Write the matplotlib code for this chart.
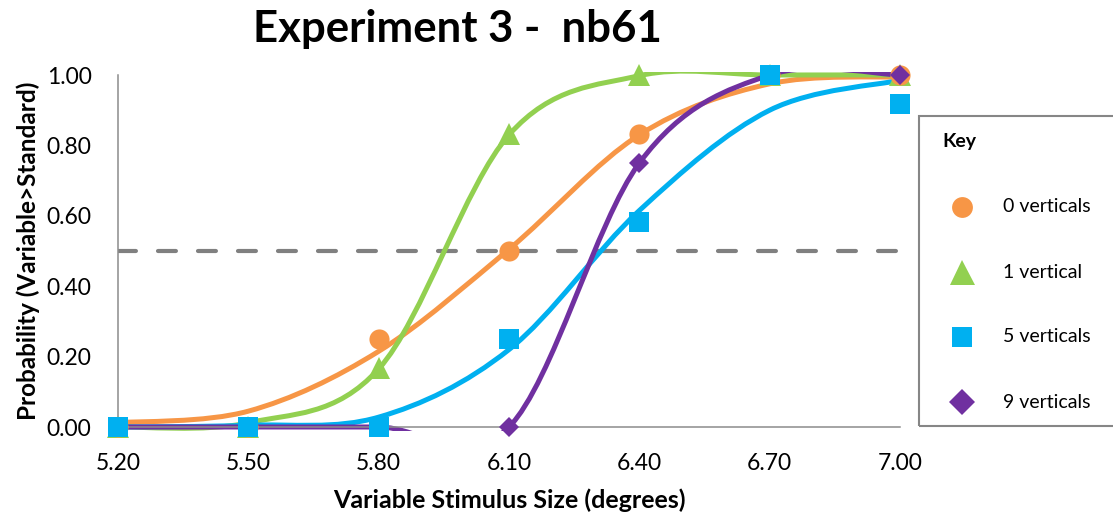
import numpy as np
import matplotlib
matplotlib.use("Agg")
import matplotlib.pyplot as plt
from matplotlib.path import Path
from matplotlib.patches import PathPatch, Rectangle
from matplotlib.lines import Line2D

plt.rcParams['font.family'] = ['Lato', 'DejaVu Sans']

# stimulus sizes (x) and axis labels
sizes = [5.20, 5.50, 5.80, 6.10, 6.40, 6.70, 7.00]
x_ticklabels = ["5.20", "5.50", "5.80", "6.10", "6.40", "6.70", "7.00"]
y_ticks = [0.0, 0.2, 0.4, 0.6, 0.8, 1.0]
y_ticklabels = ["0.00", "0.20", "0.40", "0.60", "0.80", "1.00"]

# observed proportions (variable > standard)
p_zero = [0.0, 0.0, 0.25, 0.50, 0.833, 1.0, 1.0]
p_one = [0.0, 0.0, 0.167, 0.833, 1.0, 1.0, 1.0]
p_five = [0.0, 0.0, 0.0, 0.25, 0.583, 1.0, 0.917]
p_nine = [0.0, 0.0, 0.0, 0.0, 0.75, 1.0, 1.0]

# fitted values at the same sizes (drawn as smoothed lines)
fit_zero = [0.012, 0.045, 0.215, 0.505, 0.83, 0.975, 0.995]
fit_one = [0.0, 0.012, 0.165, 0.83, 0.998, 1.0, 1.0]
fit_five = [0.0, 0.005, 0.028, 0.22, 0.615, 0.90, 0.985]
fit_nine = [0.0, 0.0, 0.0, 0.0, 0.75, 1.0, 1.0]

threshold = 0.5

labels = ["0 verticals", "1 vertical", "5 verticals", "9 verticals"]
colors = ["#F79646", "#92D050", "#00B0F0", "#7030A0"]
markers = ["o", "^", "s", "D"]
msizes = [14.5, 16.5, 14.5, 10.5]
mz = [3.1, 3.0, 3.3, 3.2]

W, H = 1113, 518


def smooth_path(xs, ys):
    # excel風のスムージング (bezier)
    pts = np.column_stack([xs, ys]).astype(float)
    n = len(pts)
    verts = [pts[0]]
    codes = [Path.MOVETO]
    for i in range(n - 1):
        p0 = pts[max(i - 1, 0)]
        p1 = pts[i]
        p2 = pts[i + 1]
        p3 = pts[min(i + 2, n - 1)]
        verts += [p1 + (p2 - p0) / 6, p2 - (p3 - p1) / 6, p2]
        codes += [Path.CURVE4] * 3
    return Path(verts, codes)


fig = plt.figure(figsize=(W / 100, H / 100), dpi=100)
ax = fig.add_axes([118 / W, (H - 427) / H, (900 - 118) / W, (427 - 75) / H])
ax.set_xlim(sizes[0], sizes[-1])
ax.set_ylim(0, 1)

clip = Rectangle((5.0, -0.011), 2.2, 1.019, transform=ax.transData)

ax.plot([sizes[0], sizes[-1]], [threshold, threshold], color="#808080", lw=3.0,
        linestyle=(0, (4.3, 5.3)), dash_capstyle="round", zorder=1.5)

fits = [fit_zero, fit_one, fit_five, fit_nine]
obs = [p_zero, p_one, p_five, p_nine]
for i, f in enumerate(fits):
    patch = PathPatch(smooth_path(sizes, f), fill=False, edgecolor=colors[i], lw=3.6,
                      transform=ax.transData, zorder=2 + i * 0.1, clip_on=True,
                      capstyle="butt", joinstyle="round")
    ax.add_patch(patch)
    patch.set_clip_path(clip)

for i, p in enumerate(obs):
    ax.plot(sizes, p, linestyle="none", marker=markers[i], ms=msizes[i], color=colors[i],
            markeredgewidth=0, clip_on=False, zorder=mz[i])

for s in ["top", "right"]:
    ax.spines[s].set_visible(False)
for s in ["left", "bottom"]:
    ax.spines[s].set_color("#8C8C8C")
    ax.spines[s].set_linewidth(1.1)
ax.set_xticks(sizes)
ax.set_xticklabels(x_ticklabels, fontsize=16.5)
ax.set_yticks(y_ticks)
ax.set_yticklabels(y_ticklabels, fontsize=16.5)
ax.tick_params(axis="x", length=0, pad=19)
ax.tick_params(axis="y", length=0, pad=19)

fig.text(457 / W, 1 - 29 / H, "Experiment 3 -  nb61", fontsize=31.5, fontweight="bold",
         ha="center", va="center")
fig.text(509 / W, 1 - 500 / H, "Variable Stimulus Size (degrees)", fontsize=18,
         fontweight="bold", ha="center", va="center")
fig.text(28 / W, 1 - 251 / H, "Probability (Variable>Standard)", fontsize=17.5,
         fontweight="bold", ha="center", va="center", rotation=90)

# key box
fig.add_artist(Rectangle((919 / W, 1 - 426 / H), 200 / W, 310 / H, transform=fig.transFigure,
                         fill=False, edgecolor="#868686", lw=1.5))
fig.text(942 / W, 1 - 142 / H, "Key", fontsize=14, fontweight="bold", ha="left", va="center")
key_sizes = [15, 18, 14, 13]
for i, lab in enumerate(labels):
    yy = 1 - (207 + 65 * i) / H
    fig.add_artist(Line2D([962 / W], [yy], transform=fig.transFigure, marker=markers[i],
                          ms=key_sizes[i], color=colors[i], markeredgewidth=0, linestyle="none"))
    fig.text(1003 / W, yy, lab, fontsize=14, ha="left", va="center")

fig.savefig("out.png", dpi=100)
